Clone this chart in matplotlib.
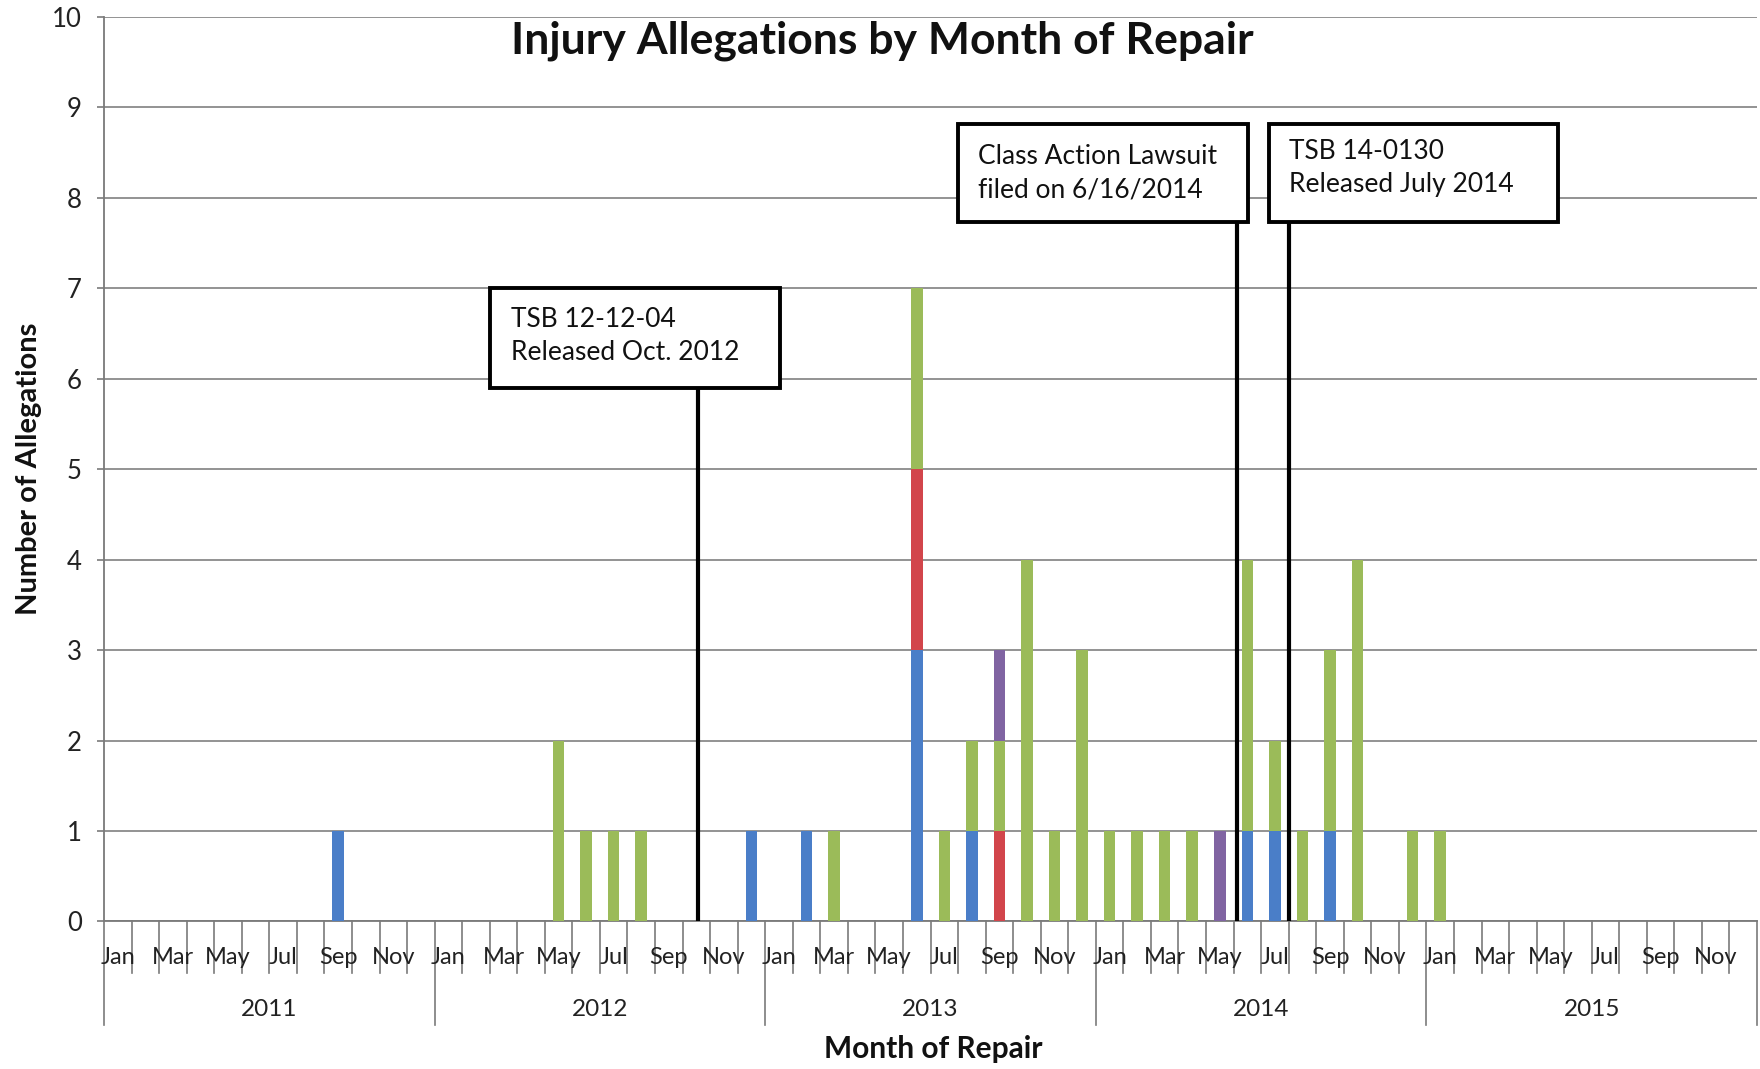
"""Injury allegations by month of repair - stacked monthly bars with event markers."""
import matplotlib

matplotlib.use("Agg")
import matplotlib.pyplot as plt
import matplotlib.transforms as mtransforms
import numpy as np
import pandas as pd
from matplotlib.patches import Rectangle

# --------------------------------------------------------------------------- #
# Data (counts per month of repair)
# --------------------------------------------------------------------------- #
MONTHS = pd.period_range("2011-01", "2015-12", freq="M")
YEARS = ["2011", "2012", "2013", "2014", "2015"]

BLUE = {"2011-09": 1, "2012-12": 1, "2013-02": 1, "2013-06": 3, "2013-08": 1,
        "2014-06": 1, "2014-07": 1, "2014-09": 1}
RED = {"2013-06": 2, "2013-09": 1}
GREEN = {"2012-05": 2, "2012-06": 1, "2012-07": 1, "2012-08": 1, "2013-03": 1,
         "2013-06": 2, "2013-07": 1, "2013-08": 1, "2013-09": 1, "2013-10": 4,
         "2013-11": 1, "2013-12": 3, "2014-01": 1, "2014-02": 1, "2014-03": 1,
         "2014-04": 1, "2014-06": 3, "2014-07": 1, "2014-08": 1, "2014-09": 2,
         "2014-10": 4, "2014-12": 1, "2015-01": 1}
PURPLE = {"2013-09": 1, "2014-05": 1}

# event label lines and their position on the month axis (fractional month index)
EVENT_TEXT = ["TSB 12-12-04\nReleased Oct. 2012",
              "Class Action Lawsuit\nfiled on 6/16/2014",
              "TSB 14-0130\nReleased July 2014"]
EVENT_X = [21.06, 40.64, 42.5]

SERIES = [(BLUE, "#4a7ec8"), (RED, "#d2454b"), (GREEN, "#9bbb59"), (PURPLE, "#8064a2")]

# box geometry (data coords): x0, x1, y0, y1
BOXES = [(13.52, 24.04, 5.9, 7.0), (30.48, 41.04, 7.73, 8.82), (41.77, 52.29, 7.73, 8.82)]
TEXT_Y = [6.47, 8.27, 8.33]

FONT = ["Lato", "DejaVu Sans"]


def to_array(counts: dict) -> np.ndarray:
    s = pd.Series(counts)
    s.index = pd.PeriodIndex(s.index, freq="M")
    return s.reindex(MONTHS, fill_value=0).to_numpy()


def main():
    plt.rcParams["font.family"] = FONT
    fig = plt.figure(figsize=(17.6, 10.69), dpi=100)
    ax = fig.add_axes([0.0591, 0.138, 0.9392, 0.8463])

    x = np.arange(len(MONTHS))
    bottom = np.zeros(len(MONTHS))
    for counts, color in SERIES:
        vals = to_array(counts)
        ax.bar(x, vals, width=0.42, bottom=bottom, color=color, zorder=3)
        bottom += vals

    ax.set_xlim(-0.5, len(MONTHS) - 0.5)
    ax.set_ylim(0, 10)
    ax.set_yticks(range(0, 11))
    ax.yaxis.grid(True, color="#8a8a8a", linewidth=1.3, zorder=0)
    ax.tick_params(axis="y", length=5, width=1.2, color="#7a7a7a", pad=11,
                   labelsize=18.5, labelcolor="#222222")
    ax.set_xticks([])
    for side in ("top", "right"):
        ax.spines[side].set_visible(False)
    ax.spines["bottom"].set_color("#7a7a7a")
    ax.spines["bottom"].set_linewidth(1.3)
    ax.spines["left"].set_color("#7a7a7a")
    ax.spines["left"].set_linewidth(1.3)

    # multi-level category axis (month ticks + year separators)
    trans = mtransforms.blended_transform_factory(ax.transData, ax.transAxes)
    for b in np.arange(-0.5, len(MONTHS), 1.0):
        is_year = (b + 0.5) % 12 == 0
        ax.plot([b, b], [0, -0.114 if is_year else -0.057], transform=trans,
                color="#7a7a7a", linewidth=1.2, clip_on=False)
    for i, m in enumerate(MONTHS):
        if i % 2 == 0:
            ax.text(i, -0.04, m.strftime("%b"), transform=trans, ha="center",
                    va="center", fontsize=17, color="#222222")
    for k, yr in enumerate(YEARS):
        ax.text(12 * k + 5.5, -0.097, yr, transform=trans, ha="center",
                va="center", fontsize=17.5, color="#222222")

    # event boxes and marker lines
    for text, ex, (x0, x1, y0, y1), ty in zip(EVENT_TEXT, EVENT_X, BOXES, TEXT_Y):
        ax.plot([ex, ex], [0, y0], color="black", linewidth=3, zorder=5,
                solid_capstyle="butt")
        ax.add_patch(Rectangle((x0, y0), x1 - x0, y1 - y0, facecolor="white",
                               edgecolor="black", linewidth=2.8, zorder=6))
        ax.text(x0 + 0.75, ty, text, ha="left", va="center",
                fontsize=19, linespacing=1.4, color="#111111", zorder=7)

    ax.text(0.471, 0.974, "Injury Allegations by Month of Repair",
            transform=ax.transAxes, ha="center", va="center", fontsize=32,
            fontweight="bold", color="#111111")
    ax.text(0.5015, -0.141, "Month of Repair", transform=ax.transAxes,
            ha="center", va="center", fontsize=21.5, fontweight="bold",
            color="#111111")
    fig.text(0.0165, 0.561, "Number of Allegations", rotation=90, ha="center",
             va="center", fontsize=21, fontweight="bold", color="#111111")

    fig.savefig("out.png", dpi=100)
    plt.close(fig)


if __name__ == "__main__":
    main()
